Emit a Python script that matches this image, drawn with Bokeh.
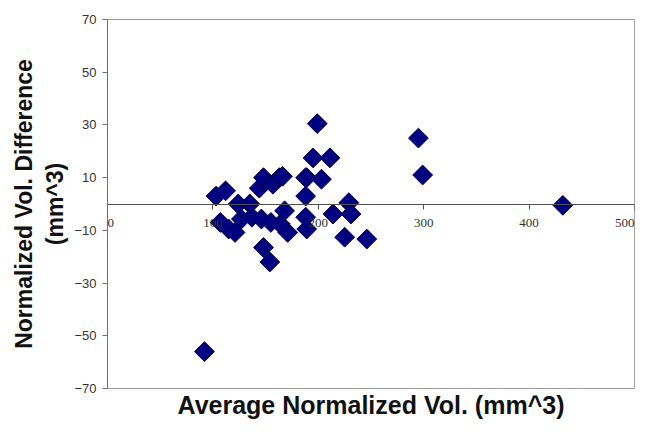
import math
from bokeh.plotting import figure
from bokeh.models import LinearAxis, FixedTicker, Range1d, ColumnDataSource, LabelSet
from bokeh.core.properties import field
from bokeh.embed import file_html
from bokeh.resources import INLINE

avg_vol = [92, 103, 107, 112, 115, 121, 124, 127, 135, 137, 144, 146, 148, 148,
           154, 155, 157, 163, 164, 166, 168, 171, 188, 188, 188, 189, 189, 195,
           199, 203, 211, 214, 225, 229, 231, 246, 295, 299, 432]
vol_diff = [-56, 3, -7, 5, -9.5, -10.8, 0, -5.7, 0, -5, 6, -5.7, 10, -16.5,
            -22, -7, 7.5, 10, -7.6, 10.5, -2.6, -10.8, 3, -5, 10, -9.5, 10, 17.5,
            30.5, 9.4, 17.5, -3.8, -12.6, 0.5, -3.8, -13.3, 25, 11, -0.5]

x_ticks = [0, 100, 200, 300, 400, 500]
y_ticks = [-70, -50, -30, -10, 10, 30, 50, 70]

src = ColumnDataSource(data=dict(x=avg_vol, y=vol_diff))
# edge labels are aligned inwards so that the frame does not cut them
aligns = ["left"] + ["center"] * (len(x_ticks) - 2) + ["right"]
tick_src = ColumnDataSource(data=dict(x=x_ticks, y=[0] * len(x_ticks),
                                      t=[str(v) for v in x_ticks], align=aligns))

p = figure(width=648, height=422, output_backend="svg", toolbar_location=None,
           x_range=Range1d(0, 500), y_range=Range1d(-70, 70),
           min_border_left=107, min_border_top=19, min_border_right=14, min_border_bottom=34,
           x_axis_location=None, y_axis_location=None)
p.grid.visible = False
p.outline_line_color = "#a0a0a0"
p.outline_line_width = 1
p.background_fill_color = "white"
p.border_fill_color = "white"

# left y axis
yax = LinearAxis(ticker=FixedTicker(ticks=y_ticks))
yax.axis_label = "Normalized Vol. Difference\n(mm^3)"
yax.axis_label_text_font = "Liberation Sans"
yax.axis_label_text_font_style = "bold"
yax.axis_label_text_font_size = "23px"
yax.axis_label_text_color = "#111111"
yax.axis_label_standoff = 3
yax.major_label_text_font = "Liberation Sans"
yax.major_label_text_font_size = "13px"
yax.major_label_text_color = "#333333"
yax.major_label_standoff = 6
yax.axis_line_color = "#707070"
yax.major_tick_line_color = "#707070"
yax.major_tick_out = 5
yax.major_tick_in = 0
yax.minor_tick_line_color = None
p.add_layout(yax, "left")

# bottom axis holding only the title
bax = LinearAxis(ticker=FixedTicker(ticks=[]))
bax.axis_label = "Average Normalized Vol. (mm^3)"
bax.axis_label_text_font = "Liberation Sans"
bax.axis_label_text_font_style = "bold"
bax.axis_label_text_font_size = "25px"
bax.axis_label_text_color = "#111111"
bax.axis_label_standoff = 2
bax.axis_line_color = None
bax.major_tick_line_color = None
bax.minor_tick_line_color = None
bax.major_label_text_font_size = "0px"
p.add_layout(bax, "below")

# x axis crossing at y = 0 (line and ticks)
xax = LinearAxis(ticker=FixedTicker(ticks=x_ticks), fixed_location=0)
xax.major_label_text_color = None
xax.axis_line_color = "#505050"
xax.major_tick_line_color = "#505050"
xax.major_tick_out = 5
xax.major_tick_in = 0
xax.minor_tick_line_color = None
p.add_layout(xax, "below")

# x tick labels just under the zero line
labels = LabelSet(x="x", y="y", text="t", source=tick_src, y_offset=-15,
                  text_align=field("align"), text_baseline="top",
                  text_font="Liberation Sans", text_font_size="13px",
                  text_color="#333333")
p.add_layout(labels)

p.scatter("x", "y", source=src, marker="square", size=14, angle=math.pi / 4,
          fill_color="#000080", line_color="#00004a", line_width=1)

open("out.html", "w").write(file_html(p, INLINE))
